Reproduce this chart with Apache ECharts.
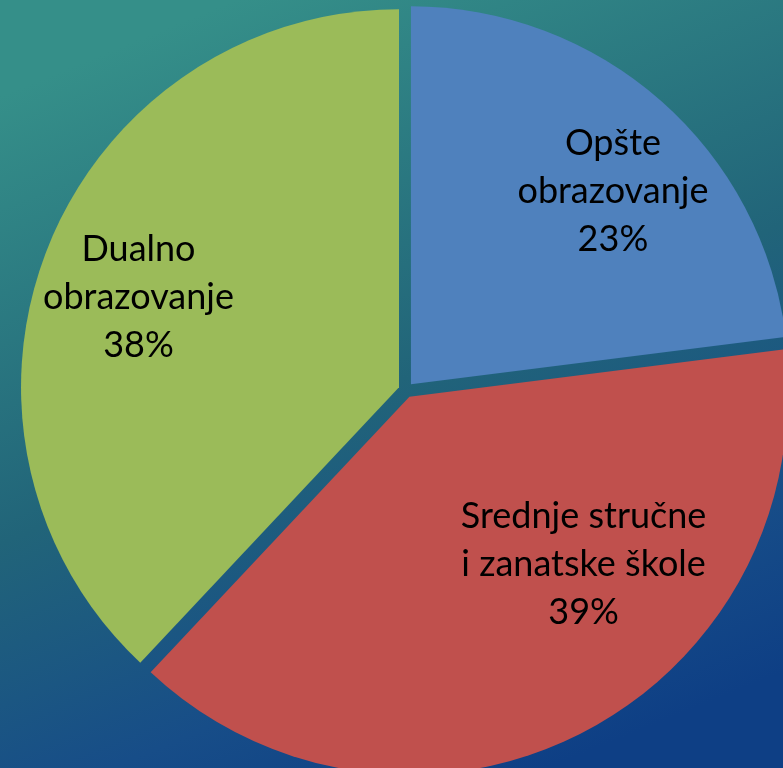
<!DOCTYPE html>
<html>
<head>
<meta charset="utf-8">
<title>Obrazovanje</title>
<script src="https://cdn.jsdelivr.net/npm/echarts@6/dist/echarts.min.js"></script>
<style>
  html, body { margin: 0; padding: 0; }
  #chart { width: 783px; height: 768px; }
</style>
</head>
<body>
<div id="chart"></div>
<script>
// podaci
const categories = ['Opšte\nobrazovanje', 'Srednje stručne\ni zanatske škole', 'Dualno\nobrazovanje']
const values = [23, 39, 38]
const colors = ['#4F81BD', '#C0504D', '#9BBB59']
// pomak natpisa od podrazumevane pozicije
const labelOffsets = [[75, -49], [87, -3], [-82, -19]]

const chart = echarts.init(document.getElementById('chart'))
const option = {
  animation: false,
  backgroundColor: {
    type: 'linear',
    x: 0.3, y: 0, x2: 0.7, y2: 1,
    colorStops: [
      { offset: 0, color: '#358F89' },
      { offset: 0.5, color: '#216479' },
      { offset: 0.8, color: '#174D88' },
      { offset: 1, color: '#0E3F85' }
    ]
  },
  series: [
    {
      type: 'pie',
      center: [406, 390],
      radius: [0, 378],
      startAngle: 90,
      clockwise: true,
      selectedMode: 'multiple',
      selectedOffset: 7.5,
      avoidLabelOverlap: false,
      emphasis: { disabled: true },
      label: {
        show: true,
        position: 'inside',
        formatter: '{b}\n{d}%',
        color: '#000',
        fontFamily: 'Lato',
        fontSize: 36,
        lineHeight: 48,
        align: 'center'
      },
      labelLine: { show: false },
      labelLayout: function (params) {
        const off = labelOffsets[params.dataIndex]
        return { dx: off[0], dy: off[1] }
      },
      data: categories.map((name, i) => ({
        name: name,
        value: values[i],
        selected: true,
        itemStyle: { color: colors[i] }
      }))
    }
  ]
}
chart.setOption(option)
</script>
</body>
</html>
